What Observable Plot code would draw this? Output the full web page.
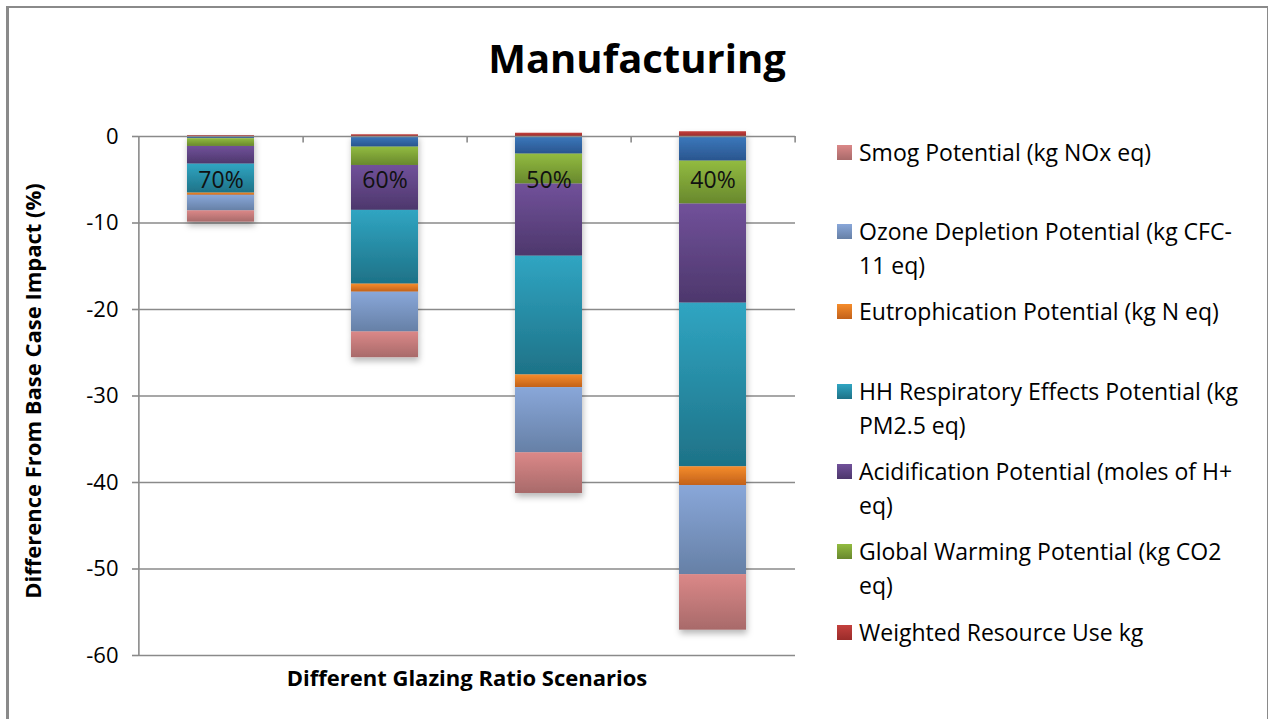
<!DOCTYPE html>
<html>
<head>
<meta charset="utf-8">
<script src="https://cdn.jsdelivr.net/npm/d3@7"></script>
<script src="https://cdn.jsdelivr.net/npm/@observablehq/plot@0.6"></script>
<style>
  body { margin: 0; background: #fff; font-family: "Open Sans", sans-serif; color: #000; }
  #wrap { position: relative; width: 1268px; height: 719px; overflow: hidden; background: #fff; }
  #border { position: absolute; left: 6px; top: 6px; width: 1258px; height: 800px;
            border-left: 3px solid #8a8a8a; border-top: 2px solid #8a8a8a; border-right: 2px solid #8a8a8a; }
  #chart { position: absolute; left: 0; top: 0; }
  #title { position: absolute; left: 0; top: 30px; width: 1274px; text-align: center;
           font-weight: 700; font-size: 40px; line-height: 56px; }
  #ytitle { position: absolute; left: 32px; top: 391px; transform: translate(-50%, -50%) rotate(-90deg);
            white-space: nowrap; font-weight: 700; font-size: 22px; }
  #xtitle { position: absolute; left: 467px; top: 677px; transform: translate(-50%, -50%);
            white-space: nowrap; font-weight: 700; font-size: 22px; }
  .item { position: absolute; left: 837px; }
  .sw { position: absolute; left: 0; width: 15px; height: 15px; top: 10px; }
  .lab { position: absolute; left: 22px; top: 0; white-space: nowrap; font-size: 23px; line-height: 34px; }
</style>
</head>
<body>
<div id="wrap">
  <div id="border"></div>
  <div id="chart"></div>
  <div id="title">Manufacturing</div>
  <div id="ytitle">Difference From Base Case Impact (%)</div>
  <div id="xtitle">Different Glazing Ratio Scenarios</div>
  <div id="legend"></div>
</div>
<script>
// Glazing ratio scenarios (categories on the x axis, also printed inside each bar)
const scenarios = ["70%", "60%", "50%", "40%"];

// Impact categories, in stacking order from the zero line outward
const seriesKeys = ["energy", "gwp", "acid", "hh", "eutro", "ozone", "smog", "resource"];
const seriesNames = [
  "Primary Energy Consumption (MJ)",
  "Global Warming Potential (kg CO2 eq)",
  "Acidification Potential (moles of H+ eq)",
  "HH Respiratory Effects Potential (kg PM2.5 eq)",
  "Eutrophication Potential (kg N eq)",
  "Ozone Depletion Potential (kg CFC-11 eq)",
  "Smog Potential (kg NOx eq)",
  "Weighted Resource Use kg"
];

// Difference from base case impact (%), one value per scenario
const energy   = [-0.25, -1.23, -2.04, -2.85];
const gwp      = [-0.90, -2.12, -3.46, -4.96];
const acid     = [-2.05, -5.19, -8.34, -11.46];
const hh       = [-3.35, -8.53, -13.73, -18.92];
const eutro    = [-0.25, -0.93, -1.46, -2.16];
const ozone    = [-1.80, -4.60, -7.54, -10.30];
const smog     = [-1.30, -2.97, -4.70, -6.42];
const resource = [0.10, 0.20, 0.38, 0.55];

// Y axis ticks
const yTicks = [0, -10, -20, -30, -40, -50, -60];

// Legend entries (top to bottom) with their wrapped lines
const legendKeys = ["smog", "ozone", "eutro", "hh", "acid", "gwp", "resource"];
const legendLines = [
  ["Smog Potential (kg NOx eq)"],
  ["Ozone Depletion Potential (kg CFC-", "11 eq)"],
  ["Eutrophication Potential (kg N eq)"],
  ["HH Respiratory Effects Potential (kg", "PM2.5 eq)"],
  ["Acidification Potential (moles of H+", "eq)"],
  ["Global Warming Potential (kg CO2", "eq)"],
  ["Weighted Resource Use kg"]
];

// Gradient colours (top, bottom) for each series
const gradientColors = {
  energy:   ["#3b79bd", "#2a558e"],
  gwp:      ["#92bb40", "#68882d"],
  acid:     ["#71519a", "#4d376c"],
  hh:       ["#30a5c2", "#1e7287"],
  eutro:    ["#f58c2b", "#c2611a"],
  ozone:    ["#89a7d9", "#6680a6"],
  smog:     ["#db8888", "#a86a6a"],
  resource: ["#c4403d", "#9a2c2a"]
};

const valuesByKey = { energy, gwp, acid, hh, eutro, ozone, smog, resource };
const rows = [];
seriesKeys.forEach((k) => {
  scenarios.forEach((s, i) => rows.push({ scenario: s, series: k, value: valuesByKey[k][i] }));
});

const half = 657 / scenarios.length / 2; // half a category step, in pixels
const axisColor = "#8a8a8a";

const chart = Plot.plot({
  width: 1268,
  height: 719,
  marginLeft: 138,
  marginRight: 473,
  marginTop: 136,
  marginBottom: 64,
  style: { fontFamily: '"Open Sans", sans-serif', fontSize: "22px", color: "#000", background: "transparent", overflow: "visible" },
  x: { type: "band", domain: scenarios, paddingInner: 0.59, paddingOuter: 0.295, axis: null },
  y: { domain: [-60, 0], ticks: yTicks, tickFormat: (d) => String(d), tickSize: 6, tickPadding: 14, label: null },
  color: { domain: seriesKeys, range: seriesKeys.map((k) => `url(#grad-${k})`) },
  marks: [
    Plot.ruleY(yTicks.filter((d) => d !== 0), { stroke: axisColor, strokeWidth: 1.6 }),
    Plot.barY(rows, { x: "scenario", y: "value", fill: "series" }),
    Plot.ruleY([0], { stroke: axisColor, strokeWidth: 1.6 }),
    Plot.ruleX(scenarios.slice(0, 1), { x: (d) => d, dx: -half, y1: -60, y2: 0, stroke: axisColor, strokeWidth: 1.6 }),
    Plot.ruleX(scenarios, { x: (d) => d, dx: half, y1: 0, y2: -0.75, stroke: axisColor, strokeWidth: 1.6 }),
    Plot.text(scenarios, { x: (d) => d, text: (d) => d, frameAnchor: "top", dy: 35, fontSize: 23, fill: "#111" })
  ]
});

// Gradients and the soft shadow under the bars
const svg = d3.select(chart);
const defs = svg.insert("defs", ":first-child");
seriesKeys.forEach((k) => {
  const g = defs.append("linearGradient").attr("id", `grad-${k}`)
    .attr("x1", 0).attr("y1", 0).attr("x2", 0).attr("y2", 1);
  g.append("stop").attr("offset", "0%").attr("stop-color", gradientColors[k][0]);
  g.append("stop").attr("offset", "100%").attr("stop-color", gradientColors[k][1]);
});
const f = defs.append("filter").attr("id", "bar-shadow")
  .attr("x", "-20%").attr("y", "-20%").attr("width", "140%").attr("height", "140%");
f.append("feDropShadow").attr("dx", 1).attr("dy", 4).attr("stdDeviation", 3)
  .attr("flood-color", "#000").attr("flood-opacity", 0.28);
svg.select('g[aria-label="bar"]').attr("filter", "url(#bar-shadow)");
svg.selectAll('g[aria-label="y-axis tick"] path').attr("stroke", axisColor).attr("stroke-width", 1.6);

document.getElementById("chart").appendChild(chart);

// Legend
const legend = d3.select("#legend");
const itemTops = [135, 214, 294, 374, 454, 534, 615];
legendKeys.forEach((k, i) => {
  const item = legend.append("div").attr("class", "item").style("top", itemTops[i] + "px");
  item.append("div").attr("class", "sw")
    .style("background", `linear-gradient(${gradientColors[k][0]}, ${gradientColors[k][1]})`);
  item.append("div").attr("class", "lab").html(legendLines[i].join("<br>"));
});
</script>
</body>
</html>
